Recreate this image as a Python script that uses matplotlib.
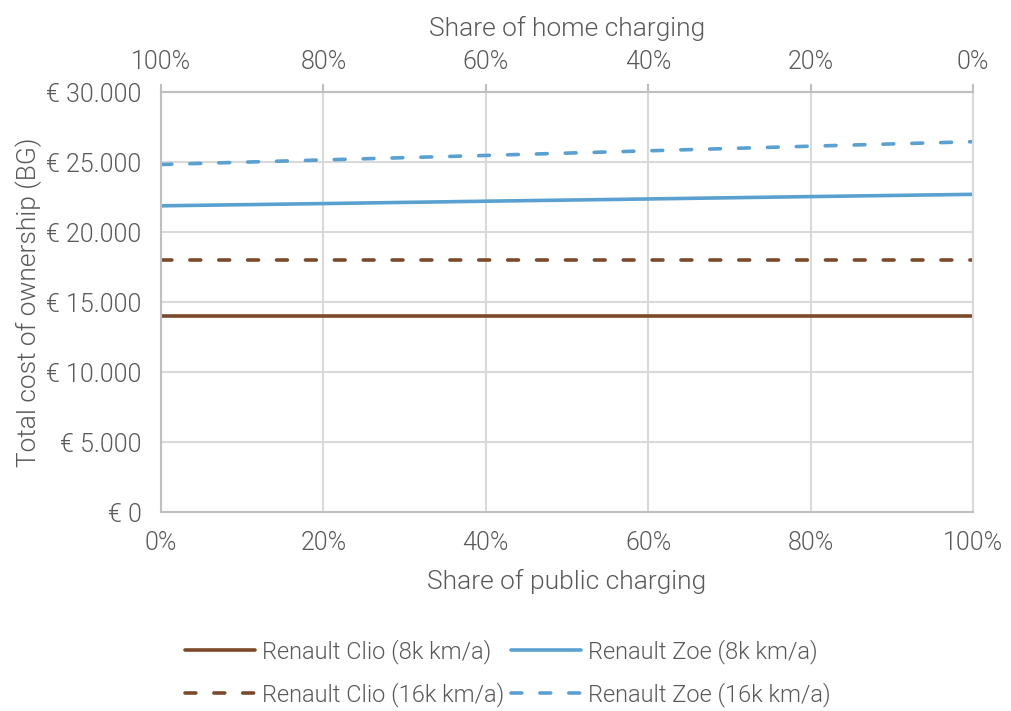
import matplotlib
matplotlib.use("Agg")
import matplotlib.pyplot as plt
from matplotlib.ticker import FuncFormatter

plt.rcParams['font.family'] = ['Roboto', 'DejaVu Sans']
plt.rcParams['font.weight'] = 300

public_share = [0, 20, 40, 60, 80, 100]
home_labels = ['100%', '80%', '60%', '40%', '20%', '0%']
clio_8k = [14000, 14000, 14000, 14000, 14000, 14000]
zoe_8k = [21870, 22030, 22200, 22360, 22530, 22690]
clio_16k = [18000, 18000, 18000, 18000, 18000, 18000]
zoe_16k = [24820, 25150, 25470, 25800, 26130, 26450]

BROWN = '#7a4a2a'
BLUE = '#5aa0d0'
TXT = '#595959'
GRID = '#d9d9d9'
SPINE = '#bfbfbf'
FS = 18
LFS = 19
W = 300

fig = plt.figure(figsize=(10.11, 7.11), dpi=100)
ax = fig.add_axes([161/1011, 1-512/711, (973-161)/1011, (512-92)/711])

lw = 2.6
l1, = ax.plot(public_share, clio_8k, color=BROWN, lw=lw, solid_capstyle='round', label='Renault Clio (8k km/a)')
l2, = ax.plot(public_share, zoe_8k, color=BLUE, lw=lw, solid_capstyle='round', label='Renault Zoe (8k km/a)')
l3, = ax.plot(public_share, clio_16k, color=BROWN, lw=lw, dashes=(3.0, 5.0), dash_capstyle='round', label='Renault Clio (16k km/a)')
l4, = ax.plot(public_share, zoe_16k, color=BLUE, lw=lw, dashes=(3.0, 5.0), dash_capstyle='round', label='Renault Zoe (16k km/a)')

ax.set_xlim(0, 100)
ax.set_ylim(0, 30000)
ax.set_yticks(range(0, 30001, 5000))
ax.set_xticks(public_share)
ax.yaxis.set_major_formatter(FuncFormatter(lambda v, p: '€ 0' if v == 0 else '€ ' + f'{int(v):,}'.replace(',', '.')))
ax.xaxis.set_major_formatter(FuncFormatter(lambda v, p: f'{int(v)}%'))
ax.grid(True, color=GRID, lw=1.5)
ax.set_axisbelow(True)
for s in ['left', 'bottom']:
    ax.spines[s].set_color(SPINE)
    ax.spines[s].set_linewidth(1.5)
ax.spines['right'].set_color(GRID)
ax.spines['right'].set_linewidth(1.5)
ax.spines['top'].set_visible(False)
ax.tick_params(axis='both', length=0, labelsize=FS, labelcolor=TXT)
ax.tick_params(axis='y', pad=14)
ax.tick_params(axis='x', pad=14)
for t in ax.get_xticklabels() + ax.get_yticklabels():
    t.set_fontweight(W)
ax.set_xlabel('Share of public charging', fontsize=LFS, color=TXT, labelpad=10, fontweight=W)
ax.set_ylabel('Total cost of ownership (BG)', fontsize=LFS, color=TXT, labelpad=3, fontweight=W)

ax2 = ax.twiny()
ax2.set_xlim(0, 100)
ax2.set_xticks(public_share)
ax2.set_xticklabels(home_labels, fontweight=W)
for s in ['left', 'bottom', 'right']:
    ax2.spines[s].set_visible(False)
ax2.spines['top'].set_color(SPINE)
ax2.spines['top'].set_linewidth(1.5)
ax2.tick_params(axis='x', length=6, width=1.5, color=SPINE, labelsize=FS, labelcolor=TXT, pad=7)
ax2.set_xlabel('Share of home charging', fontsize=LFS, color=TXT, labelpad=10, fontweight=W)

leg = fig.legend(handles=[l1, l3, l2, l4], ncol=2, loc='center', bbox_to_anchor=(508/1011, 1-673/711),
                 frameon=False, prop={'size': 17, 'weight': W}, handlelength=2.95, handletextpad=0.3,
                 columnspacing=0.3, labelspacing=0.78)
for t in leg.get_texts():
    t.set_color(TXT)

fig.savefig('out.png', dpi=100)
